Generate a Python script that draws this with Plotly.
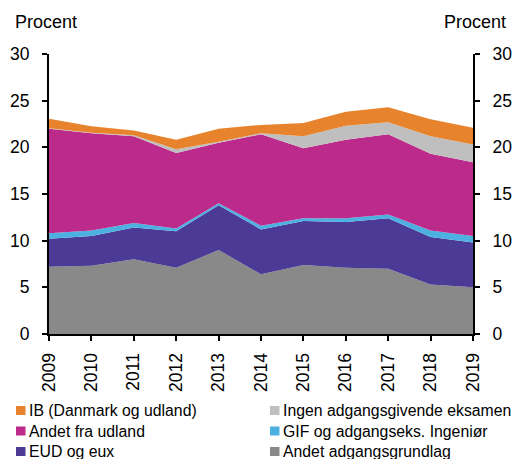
import plotly.graph_objects as go

years = [2009, 2010, 2011, 2012, 2013, 2014, 2015, 2016, 2017, 2018, 2019]
year_labels = [str(y) for y in years]

andet_adgangsgrundlag = [7.2, 7.3, 8.0, 7.1, 9.0, 6.4, 7.4, 7.1, 7.0, 5.3, 5.0]
eud_og_eux = [3.0, 3.2, 3.4, 3.9, 4.8, 4.8, 4.7, 4.9, 5.4, 5.1, 4.8]
gif_ingenior = [0.6, 0.6, 0.5, 0.3, 0.2, 0.4, 0.3, 0.4, 0.4, 0.7, 0.7]
andet_fra_udland = [11.2, 10.4, 9.3, 8.1, 6.5, 9.8, 7.5, 8.4, 8.6, 8.2, 7.9]
ingen_eksamen = [0.05, 0.05, 0.1, 0.4, 0.1, 0.1, 1.3, 1.5, 1.3, 1.9, 1.9]
ib = [1.0, 0.7, 0.5, 1.0, 1.4, 0.9, 1.4, 1.5, 1.6, 1.8, 1.8]

y_ticks = [0, 5, 10, 15, 20, 25, 30]

series = [
    ("Andet adgangsgrundlag", andet_adgangsgrundlag, "#898989"),
    ("EUD og eux", eud_og_eux, "#4B3A96"),
    ("GIF og adgangseks. Ingeniør", gif_ingenior, "#4CB1E1"),
    ("Andet fra udland", andet_fra_udland, "#BC2A8B"),
    ("Ingen adgangsgivende eksamen", ingen_eksamen, "#BFBFBF"),
    ("IB (Danmark og udland)", ib, "#E8832D"),
]

FONT = "Liberation Sans, Arial, sans-serif"

fig = go.Figure()
for name, vals, col in series:
    fig.add_trace(go.Scatter(
        x=years, y=vals, name=name, stackgroup="one", mode="none",
        fillcolor=col, line=dict(width=0), showlegend=False,
        hoverinfo="x+y+name",
    ))
# invisible trace so the right-hand axis is drawn
fig.add_trace(go.Scatter(x=years, y=andet_adgangsgrundlag, yaxis="y2", mode="none",
                         showlegend=False, hoverinfo="skip"))

W, H = 513, 459
ML, MR, MT, MB = 49, 40, 54, 125
pw, ph = W - ML - MR, H - MT - MB


def px2x(px):
    return (px - ML) / pw


def px2y(py):
    return (H - MB - py) / ph


# manual legend (two columns, three rows)
legend_order = [
    ("IB (Danmark og udland)", "#E8832D", 0, 0),
    ("Ingen adgangsgivende eksamen", "#BFBFBF", 1, 0),
    ("Andet fra udland", "#BC2A8B", 0, 1),
    ("GIF og adgangseks. Ingeniør", "#4CB1E1", 1, 1),
    ("EUD og eux", "#4B3A96", 0, 2),
    ("Andet adgangsgrundlag", "#898989", 1, 2),
]
col_x = [16, 270]
row_y = [410.5, 431, 451.5]
shapes = []
annotations = []
for name, col, c, r in legend_order:
    x0 = col_x[c]
    yc = row_y[r]
    shapes.append(dict(type="rect", xref="paper", yref="paper",
                       x0=px2x(x0), x1=px2x(x0 + 9.5),
                       y0=px2y(yc + 4.5), y1=px2y(yc - 4.5),
                       fillcolor=col, line=dict(width=0)))
    annotations.append(dict(xref="paper", yref="paper", x=px2x(x0 + 10.5), y=px2y(yc),
                            xanchor="left", yanchor="middle", text=name, showarrow=False,
                            font=dict(family=FONT, size=15.8, color="#000000")))

annotations.append(dict(xref="paper", yref="paper", x=px2x(46), y=px2y(22.5),
                        xanchor="center", yanchor="middle", text="Procent", showarrow=False,
                        font=dict(family=FONT, size=18, color="#000000")))
annotations.append(dict(xref="paper", yref="paper", x=px2x(474.5), y=px2y(22.5),
                        xanchor="center", yanchor="middle", text="Procent", showarrow=False,
                        font=dict(family=FONT, size=18, color="#000000")))

axis_common = dict(showgrid=False, zeroline=False, showline=True, linecolor="#000000",
                   linewidth=2, ticks="outside", ticklen=5, tickwidth=2, tickcolor="#000000",
                   tickfont=dict(family=FONT, size=17.5, color="#000000"))

fig.update_layout(
    width=W, height=H,
    margin=dict(l=ML, r=MR, t=MT, b=MB, pad=0, autoexpand=False),
    paper_bgcolor="#FFFFFF", plot_bgcolor="#FFFFFF",
    showlegend=False,
    xaxis=dict(range=[2009, 2019], tickvals=years, ticktext=year_labels, tickangle=-90,
               ticklabelstandoff=5, **axis_common),
    yaxis=dict(range=[0, 30], tickvals=y_ticks, ticklabelstandoff=9, **axis_common),
    yaxis2=dict(range=[0, 30], tickvals=y_ticks, overlaying="y", side="right", anchor="x",
                ticklabelstandoff=9, **axis_common),
    shapes=shapes,
    annotations=annotations,
)

fig.write_html("out.html",
               config={"displayModeBar": False},
               post_script="document.body.style.margin='0';document.body.style.overflow='hidden';")
